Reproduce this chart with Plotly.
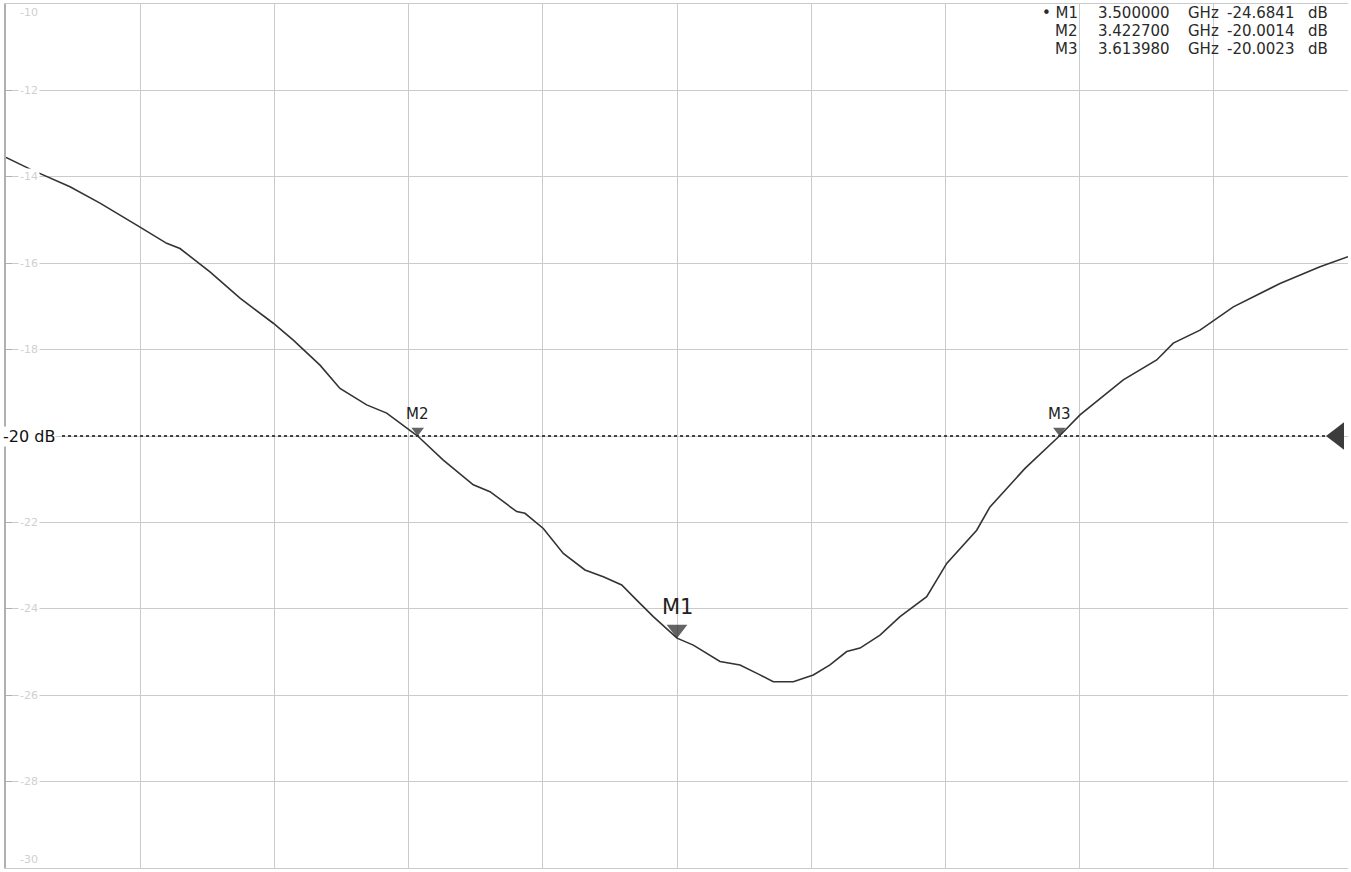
import plotly.graph_objects as go

freq_ghz = [3.3, 3.30766, 3.31908, 3.32802, 3.33896, 3.3479, 3.35186, 3.3608, 3.36975,
            3.37967, 3.38563, 3.39359, 3.39955, 3.40751, 3.41347, 3.4227, 3.43034,
            3.43928, 3.44426, 3.45222, 3.45469, 3.46015, 3.46611, 3.47258, 3.47803,
            3.48352, 3.48799, 3.49294, 3.5, 3.50486, 3.51282, 3.51878, 3.52474,
            3.5287, 3.53467, 3.54063, 3.5456, 3.55058, 3.55455, 3.56051, 3.56647,
            3.57443, 3.58039, 3.58933, 3.59329, 3.60373, 3.61398, 3.62012, 3.63302,
            3.64298, 3.64793, 3.65589, 3.66582, 3.67973, 3.69165, 3.7]
s11_db = [-13.55, -13.84, -14.23, -14.61, -15.12, -15.54, -15.66, -16.20, -16.81,
          -17.39, -17.78, -18.36, -18.90, -19.28, -19.47, -20.0, -20.56,
          -21.13, -21.29, -21.75, -21.79, -22.14, -22.72, -23.10, -23.26,
          -23.45, -23.80, -24.18, -24.68, -24.84, -25.22, -25.30, -25.53,
          -25.69, -25.69, -25.53, -25.30, -24.99, -24.91, -24.61, -24.18,
          -23.72, -22.95, -22.18, -21.64, -20.75, -20.0, -19.51, -18.70,
          -18.24, -17.85, -17.55, -17.01, -16.47, -16.08, -15.85]

# Marcadores
marker_names = ['M1', 'M2', 'M3']
marker_freq = [3.5, 3.4227, 3.61398]
marker_db = [-24.6841, -20.0014, -20.0023]

limit_db = -20
y_ticks = [-10, -12, -14, -16, -18, -22, -24, -26, -28, -30]

FONT = 'DejaVu Sans'
TRACE = '#333333'
PX_PER_DB = 43.2  # alto de 1 dB en píxeles (para colocar los triángulos)

fig = go.Figure()

# Línea límite punteada
fig.add_trace(go.Scatter(
    x=[3.3167, 3.6946], y=[limit_db, limit_db], mode='lines',
    line=dict(color='#444444', width=1.8, dash='dot'),
    hoverinfo='skip', showlegend=False
))
fig.add_trace(go.Scatter(
    x=[3.69702], y=[limit_db], mode='markers',
    marker=dict(symbol='triangle-left', size=24, color='#3c3c3c', line=dict(width=0)),
    cliponaxis=False, hoverinfo='skip', showlegend=False
))

# Trazo
fig.add_trace(go.Scatter(
    x=freq_ghz, y=s11_db, mode='lines',
    line=dict(color=TRACE, width=1.6),
    showlegend=False
))

# Triángulos de marcador (la punta toca la curva)
sizes = [18, 11, 11]
fig.add_trace(go.Scatter(
    x=marker_freq,
    y=[v + s / 2 / PX_PER_DB for v, s in zip(marker_db, sizes)],
    mode='markers',
    marker=dict(symbol='triangle-down', size=sizes, color='#222222', line=dict(width=0)),
    hoverinfo='skip', showlegend=False
))

label_sizes = [21, 15, 15]
label_shift = [31, 22, 22]
for name, f, v, fs, ys in zip(marker_names, marker_freq, marker_db, label_sizes, label_shift):
    fig.add_annotation(x=f, y=v, text=name, showarrow=False, yshift=ys,
                       font=dict(family=FONT, size=fs, color='#222222'))

# Etiquetas del eje Y (tenues, dentro del área)
for t in y_ticks:
    anchor = 'top' if t == -10 else ('bottom' if t == -30 else 'middle')
    fig.add_annotation(x=0.009, xref='paper', y=t, text=str(t), showarrow=False,
                       xanchor='left', yanchor=anchor, bgcolor='white', borderpad=1,
                       font=dict(family=FONT, size=11, color='#d0d0d0'))

# Texto -20 dB
fig.add_annotation(x=-0.003, xref='paper', y=limit_db, text='-20 dB', showarrow=False,
                   xanchor='left', yanchor='middle', bgcolor='white', borderpad=0,
                   font=dict(family=FONT, size=16, color='#111111'))

# Tabla de marcadores (columnas)
row_y = [0.98958, 0.96875, 0.94792]
for i, (name, f, v) in enumerate(zip(marker_names, marker_freq, marker_db)):
    cells = [
        (('• ' if i == 0 else '') + name, 0.8003, 'right'),
        (f'{f:.6f}', 0.8120, 'left'),
        ('GHz', 0.8795, 'left'),
        (f'{v:.4f}', 0.9610, 'right'),
        ('dB', 0.9690, 'left'),
    ]
    for text, xp, anchor in cells:
        fig.add_annotation(x=xp, xref='paper', y=row_y[i], yref='paper', text=text,
                           showarrow=False, xanchor=anchor, yanchor='middle',
                           font=dict(family=FONT, size=15, color='#2a2a2a'))

fig.update_layout(
    width=1351, height=872,
    margin=dict(l=6, r=3, t=4, b=4, autoexpand=False),
    paper_bgcolor='white', plot_bgcolor='white',
    font=dict(family=FONT),
    xaxis=dict(range=[3.3, 3.7], dtick=0.04, tick0=3.3, showticklabels=False,
               showgrid=True, gridcolor='#cbcbcb', gridwidth=1.2, zeroline=False,
               showline=True, mirror=True, linecolor='#cbcbcb', linewidth=1.2),
    yaxis=dict(range=[-30, -10], dtick=2, showticklabels=False,
               showgrid=True, gridcolor='#cbcbcb', gridwidth=1.2, zeroline=False,
               showline=True, linecolor='#b0b0b0', linewidth=2,
               ticks='inside', ticklen=6, tickcolor='#b0b0b0'),
)

# quitar el margen del body para que la figura ocupe la ventana desde (0, 0)
fig.write_html('out.html', config={'displayModeBar': False},
               post_script="document.body.style.margin='0';")
